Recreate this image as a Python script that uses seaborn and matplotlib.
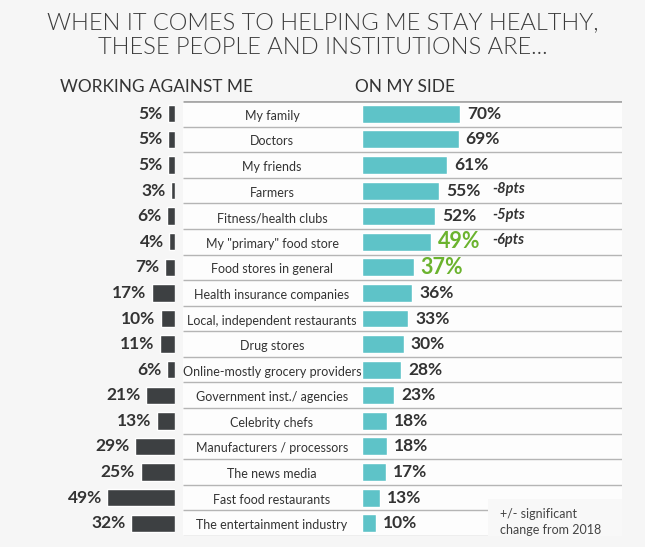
import matplotlib
matplotlib.use('Agg')
import matplotlib.pyplot as plt
import matplotlib.patches as mpatches
import seaborn as sns

# %% data
categories = [
    'My family', 'Doctors', 'My friends', 'Farmers', 'Fitness/health clubs',
    'My "primary" food store', 'Food stores in general',
    'Health insurance companies', 'Local, independent restaurants',
    'Drug stores', 'Online-mostly grocery providers',
    'Government inst./ agencies', 'Celebrity chefs',
    'Manufacturers / processors', 'The news media',
    'Fast food restaurants', 'The entertainment industry',
]
against_me = [5, 5, 5, 3, 6, 4, 7, 17, 10, 11, 6, 21, 13, 29, 25, 49, 32]
on_my_side = [70, 69, 61, 55, 52, 49, 37, 36, 33, 30, 28, 23, 18, 18, 17, 13, 10]
highlight = ['My "primary" food store', 'Food stores in general']
changes = {'Farmers': '-8pts', 'Fitness/health clubs': '-5pts',
           'My "primary" food store': '-6pts'}

# %% style
sns.set_style('white')
plt.rcParams['font.family'] = ['Lato', 'DejaVu Sans']

W, H = 645, 547
BG = '#f6f6f6'
TEAL = '#5ec3c8'
DARK = '#3d4042'
GREEN = '#6bb32e'
TXT = '#333333'
LINE = '#b5b5b5'


def fx(x):
    return x / W


def fy(y):
    return 1 - y / H


fig = plt.figure(figsize=(6.45, 5.47), dpi=100)
fig.patch.set_facecolor(BG)

top, bottom = 101, 536
n = len(categories)
ylim = (n - 0.5, -0.5)

# white table panel
fig.add_artist(mpatches.Rectangle((fx(183), fy(bottom)), fx(622) - fx(183),
                                  fy(top) - fy(bottom), transform=fig.transFigure,
                                  facecolor='#fdfdfd', edgecolor='none', zorder=0))

# middle panel: separators and category names
ax_mid = fig.add_axes([fx(183), fy(bottom), fx(622) - fx(183), fy(top) - fy(bottom)])
ax_mid.set_xlim(0, 1)
ax_mid.set_ylim(*ylim)
ax_mid.axis('off')
box_x = (488 - 183) / (622 - 183)
for i in range(n + 1):
    y = i - 0.5
    xmax = box_x if i == n - 1 else 1
    ax_mid.plot([0, xmax], [y, y], color=LINE if i else '#a8a8a8',
                lw=2 if i == 0 else 1, solid_capstyle='butt')
for i, cat in enumerate(categories):
    ax_mid.text((272 - 183) / (622 - 183), i + 0.08, cat, ha='center', va='center',
                fontsize=9.0, color=TXT)

# legend box
ax_mid.add_patch(mpatches.Rectangle((box_x, n - 1.95), 1 - box_x, 1.45,
                                    facecolor='#f8f8f8', edgecolor='none', zorder=3))
ax_mid.text((500 - 183) / (622 - 183), n - 1.6, '+/- significant\nchange from 2018',
            ha='left', va='top', fontsize=9, color='#444444', linespacing=1.45, zorder=4)

# left bars: working against me
ax_l = fig.add_axes([0, fy(bottom), fx(175), fy(top) - fy(bottom)])
sns.barplot(x=against_me, y=categories, orient='h', color=DARK, width=0.68,
            saturation=1, ax=ax_l)
ax_l.set_xlim(175 / 1.38, 0)
ax_l.set_ylim(*ylim)
ax_l.axis('off')
for i, v in enumerate(against_me):
    ax_l.annotate(f'{v}%', xy=(v, i), xytext=(-4, 0), textcoords='offset points',
                  ha='right', va='center', fontsize=12.5, fontweight='bold', color=TXT)

# right bars: on my side
ax_r = fig.add_axes([fx(362), fy(bottom), fx(645) - fx(362), fy(top) - fy(bottom)])
sns.barplot(x=on_my_side, y=categories, orient='h', color=TEAL, width=0.7,
            saturation=1, ax=ax_r)
ax_r.set_xlim(0, 283 / 1.4)
ax_r.set_ylim(*ylim)
ax_r.axis('off')
for i, (cat, v) in enumerate(zip(categories, on_my_side)):
    big = cat in highlight
    ax_r.annotate(f'{v}%', xy=(v, i), xytext=(5, 0), textcoords='offset points',
                  ha='left', va='center', fontsize=15.5 if big else 12.5,
                  fontweight='bold', color=GREEN if big else TXT)
    if cat in changes:
        ax_r.text(93, i - 0.05, changes[cat], ha='left', va='center', fontsize=10.5,
                  fontweight='bold', fontstyle='italic', color=TXT)

# titles and headers
title_lines = ['WHEN IT COMES TO HELPING ME STAY HEALTHY,',
               'THESE PEOPLE AND INSTITUTIONS ARE...']
for y, line in zip([23, 48], title_lines):
    fig.text(0.5, fy(y), line, ha='center', va='center', fontsize=17,
             color='#3c3c3c', fontweight=300)
fig.text(fx(60), fy(87), 'WORKING AGAINST ME', ha='left', va='center',
         fontsize=12.4, color=TXT)
fig.text(fx(355), fy(87), 'ON MY SIDE', ha='left', va='center',
         fontsize=12.4, color=TXT)

fig.savefig('out.png', dpi=100, facecolor=fig.get_facecolor())
